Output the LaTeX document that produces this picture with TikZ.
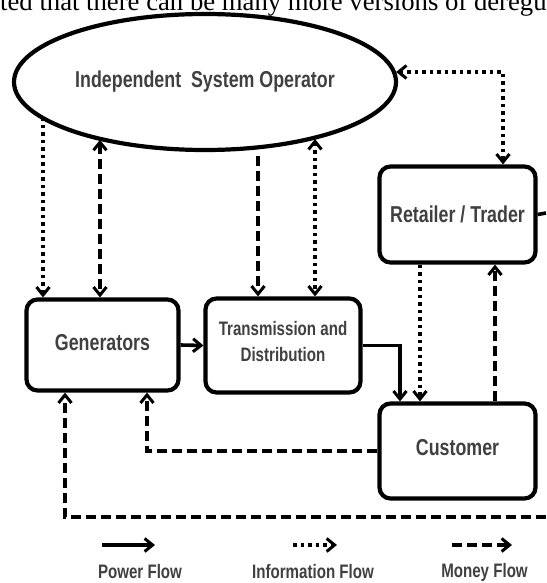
\documentclass[tikz,border=0pt]{standalone}
\usepackage{fontspec}
\setmainfont{Liberation Serif}
\newfontfamily\diagfont[FakeStretch=0.775]{Liberation Sans Bold}
\usetikzlibrary{arrows.meta,shapes.geometric}
\begin{document}
\begin{tikzpicture}[x=1pt,y=-1pt,
  box/.style={draw, line width=4.2pt, rounded corners=11pt, fill=white, inner sep=0pt},
  big/.style={font=\diagfont\fontsize{23}{26}\selectfont, text=black!75},
  small/.style={font=\diagfont\fontsize{19.5}{30}\selectfont, text=black!75},
  tip/.style={arrows={-{Straight Barb[length=8pt,width=13pt,line width=3pt]}}},
  bitip/.style={arrows={{Straight Barb[length=8pt,width=13pt,line width=3pt]}-{Straight Barb[length=8pt,width=13pt,line width=3pt]}}},
  power/.style={line width=3.6pt},
  info/.style={line width=3.6pt, dash pattern=on 3.5pt off 4pt},
  money/.style={line width=3.8pt, dash pattern=on 10pt off 5pt},
]
\useasboundingbox (0,0) rectangle (546,583);
\clip (0,0) rectangle (546,583);

% cut text of the page above
\node[anchor=base west, inner sep=0pt, font=\fontsize{26.7}{30}\selectfont] (toptext) at (0,11) {ted that there can be many more versions of deregu};

% nodes
\node[draw, ellipse, line width=4.2pt, minimum width=382pt, minimum height=136pt, inner sep=0pt, big] (iso) at (205,82) {Independent~~System Operator};
\node[box, big, minimum width=152pt, minimum height=91pt] (gen) at (102.5,345) {\raisebox{6pt}{Generators}};
\node[box, small, align=center, minimum width=155pt, minimum height=94pt] (td) at (283,345.5) {\raisebox{8pt}{\shortstack{Transmission and\\[9pt]Distribution}}};
\node[box, big, minimum width=156pt, minimum height=96pt] (ret) at (457.5,214.5) {Retailer / Trader};
\node[box, big, minimum width=156pt, minimum height=95pt] (cus) at (457.5,451) {\raisebox{8pt}{Customer}};

% attachment points
\coordinate (g1) at ([xshift=-59.5pt]gen.north);
\coordinate (g2) at ([xshift=-2.5pt]gen.north);
\coordinate (g3) at ([xshift=-37.5pt]gen.south);
\coordinate (g4) at ([xshift=44.5pt]gen.south);
\coordinate (t1) at ([xshift=-25pt]td.north);
\coordinate (t2) at ([xshift=32pt]td.north);
\coordinate (r1) at ([xshift=45.5pt]ret.north);
\coordinate (r2) at ([xshift=-37.5pt]ret.south);
\coordinate (r3) at ([xshift=37.5pt]ret.south);
\coordinate (c1) at ([xshift=-57.5pt]cus.north);
\coordinate (c2) at ([xshift=-37.5pt]cus.north);
\coordinate (c3) at ([xshift=37.5pt]cus.north);
\coordinate (mR) at (546,517);
\coordinate (rR) at (546,213);

% information flows
\draw[info, bitip] (iso.3) -| (r1);
\draw[info, tip] (iso.192.5 -| g1) -- (g1);
\draw[info, bitip] (iso.333.2 -| t2) -- (t2);
\draw[info, tip] (r2) -- (c2);

% money flows
\draw[money, bitip] (iso.208.4 -| g2) -- (g2);
\draw[money, tip, shorten <=7pt] (iso.309.1 -| t1) -- (t1);
\draw[money, tip] (c3) -- (r3);
\draw[money, tip] (cus.west) -| (g4);
\draw[money, tip] (mR) -| (g3);
\draw[power] (ret.east) -- (rR);

% power flows
\draw[power, tip] (gen.east) -- (td.west);
\draw[power, tip] (td.east) -| (c1);

% legend
\coordinate (lpa) at (102,545);
\coordinate (lpb) at (155,545);
\coordinate (lia) at (293,545);
\coordinate (lib) at (337,545);
\coordinate (lma) at (452,545);
\coordinate (lmb) at (512,545);
\draw[power, tip] (lpa) -- (lpb);
\draw[info, tip] (lia) -- (lib);
\draw[money, tip] (lma) -- (lmb);
\node[small] (lp) at (140,572) {Power Flow};
\node[small] (li) at (313,572) {Information Flow};
\node[small] (lm) at (484.5,572) {Money Flow};
\end{tikzpicture}
\end{document}
